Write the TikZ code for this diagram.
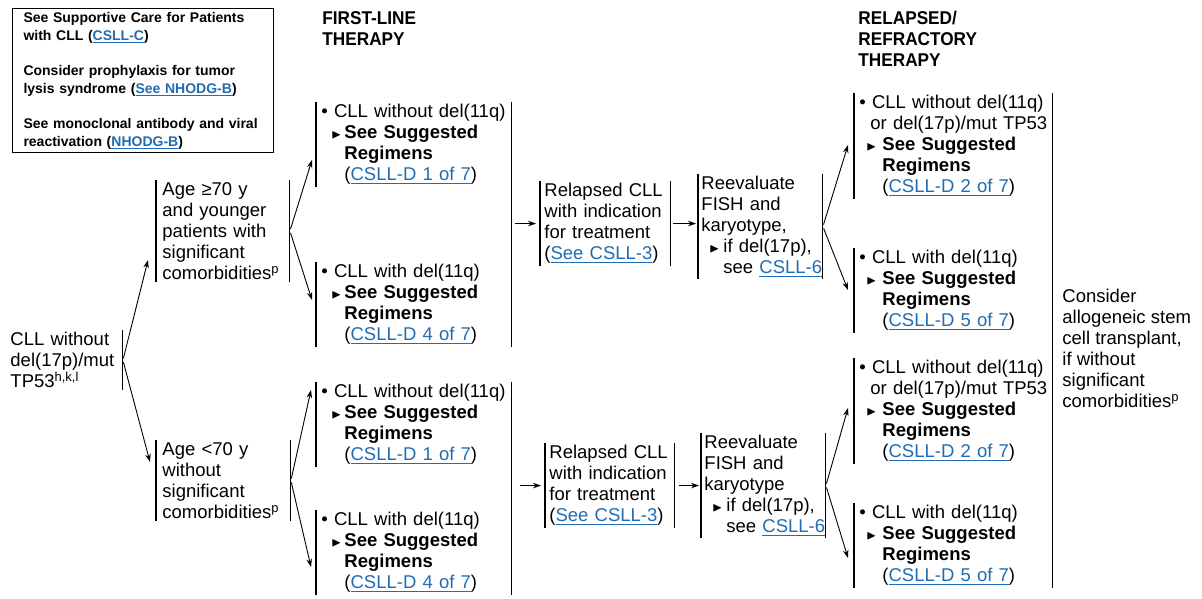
\documentclass[tikz,border=0pt]{standalone}
\usepackage{fontspec}
\setmainfont{Liberation Sans}
\newfontfamily\headfont[FakeStretch=0.93]{Liberation Sans}
\usepackage{amssymb}
\definecolor{colorLink}{RGB}{33,108,178}
\colorlet{colorBar}{black}
\usetikzlibrary{arrows.meta, calc}
\hyphenpenalty=10000
\exhyphenpenalty=10000
\newsavebox{\lnkbox}
\newcommand{\lnk}[1]{{\color{colorLink}\sbox{\lnkbox}{#1}\rlap{\rule[-2.8pt]{\wd\lnkbox}{1pt}}\usebox{\lnkbox}}}
\newcommand{\tri}{\makebox[10pt][l]{\hspace*{-3pt}\raisebox{0.5pt}{\scalebox{0.7}{$\blacktriangleright$}}}}

\begin{document}
\begin{tikzpicture}[x=1pt, y=-1pt, >={Stealth[length=8pt, width=5.5pt]}, line width=0.9pt,
  every node/.style={font=\fontsize{18.5}{21}\selectfont, align=left, anchor=north west, inner xsep=5pt, inner ysep=2pt},
  vbar/.style={draw=colorBar, line width=1.1pt},
  lbar/.style={append after command={(\tikzlastnode.north west) edge[vbar] (\tikzlastnode.south west)}},
  rbar/.style={append after command={(\tikzlastnode.north east) edge[vbar] (\tikzlastnode.south east)}}]
\useasboundingbox (0,0) rectangle (1202,599);

\node[draw, line width=1pt, font=\bfseries\fontsize{14}{18}\selectfont, text width=239pt, inner xsep=11pt, minimum height=144pt] (note) at (12,8) {See Supportive Care for Patients\\with CLL (\lnk{CSLL-C})\\[17pt]Consider prophylaxis for tumor\\lysis syndrome (\lnk{See NHODG-B})\\[17pt]See monoclonal antibody and viral\\reactivation (\lnk{NHODG-B})};
\node[font=\headfont\bfseries\fontsize{18.5}{21}\selectfont, inner sep=0pt] (fl) at (322,11) {FIRST-LINE\\THERAPY};
\node[font=\headfont\bfseries\fontsize{18.5}{21}\selectfont, inner sep=0pt] (rt) at (858,11) {RELAPSED/\\REFRACTORY\\THERAPY};

\node[rbar, text width=106pt, inner xsep=6pt] (root) at (4,330) {CLL without\\del(17p)/mut\\TP53\textsuperscript{h,k,l}};
\node[lbar, rbar, text width=121pt, inner xsep=6pt] (age1) at (156,180) {Age ≥70 y\\and younger\\patients with\\significant\\comorbidities\textsuperscript{p}};
\node[lbar, rbar, text width=122pt, inner xsep=6pt] (age2) at (156,440) {Age <70 y\\without\\significant\\comorbidities\textsuperscript{p}};

\node[lbar, text width=185pt] (ft1) at (316,102) {\textbullet~CLL~without~del(11q)\\\hspace*{13pt}\tri\textbf{See Suggested}\\\hspace*{23pt}\textbf{Regimens}\\\hspace*{23pt}(\lnk{CSLL-D 1 of 7})};
\node[lbar, text width=185pt] (ft2) at (316,262) {\textbullet~CLL~with~del(11q)\\\hspace*{13pt}\tri\textbf{See Suggested}\\\hspace*{23pt}\textbf{Regimens}\\\hspace*{23pt}(\lnk{CSLL-D 4 of 7})};
\node[lbar, text width=185pt] (fb1) at (316,382) {\textbullet~CLL~without~del(11q)\\\hspace*{13pt}\tri\textbf{See Suggested}\\\hspace*{23pt}\textbf{Regimens}\\\hspace*{23pt}(\lnk{CSLL-D 1 of 7})};
\node[lbar, text width=185pt] (fb2) at (316,510) {\textbullet~CLL~with~del(11q)\\\hspace*{13pt}\tri\textbf{See Suggested}\\\hspace*{23pt}\textbf{Regimens}\\\hspace*{23pt}(\lnk{CSLL-D 4 of 7})};

\node[lbar, rbar, text width=122pt, inner xsep=4pt] (rl1) at (540,181) {Relapsed CLL\\with indication\\for treatment\\(\lnk{See CSLL-3})};
\node[lbar, rbar, text width=121pt, inner xsep=4pt] (rl2) at (545,443) {Relapsed CLL\\with indication\\for treatment\\(\lnk{See CSLL-3})};
\node[lbar, rbar, text width=118pt, inner xsep=3pt] (re1) at (698,174) {Reevaluate\\FISH and\\karyotype,\\\hspace*{11pt}\tri\hspace*{1pt}if del(17p),\\\hspace*{22pt}see~\lnk{CSLL-6}};
\node[lbar, rbar, text width=118pt, inner xsep=3pt] (re2) at (701,433) {Reevaluate\\FISH and\\karyotype\\\hspace*{11pt}\tri\hspace*{1pt}if del(17p),\\\hspace*{22pt}see~\lnk{CSLL-6}};

\node[lbar, text width=188pt] (rr1) at (854,93) {\textbullet~CLL~without~del(11q)\\\hspace*{11pt}or~del(17p)/mut~TP53\\\hspace*{10pt}\tri\hspace*{3pt}\textbf{See Suggested}\\\hspace*{23pt}\textbf{Regimens}\\\hspace*{23pt}(\lnk{CSLL-D 2 of 7})};
\node[lbar, text width=188pt] (rr2) at (854,248) {\textbullet~CLL~with~del(11q)\\\hspace*{10pt}\tri\hspace*{3pt}\textbf{See Suggested}\\\hspace*{23pt}\textbf{Regimens}\\\hspace*{23pt}(\lnk{CSLL-D 5 of 7})};
\node[lbar, text width=188pt] (rs1) at (854,358) {\textbullet~CLL~without~del(11q)\\\hspace*{11pt}or~del(17p)/mut~TP53\\\hspace*{10pt}\tri\hspace*{3pt}\textbf{See Suggested}\\\hspace*{23pt}\textbf{Regimens}\\\hspace*{23pt}(\lnk{CSLL-D 2 of 7})};
\node[lbar, text width=188pt] (rs2) at (854,503) {\textbullet~CLL~with~del(11q)\\\hspace*{10pt}\tri\hspace*{3pt}\textbf{See Suggested}\\\hspace*{23pt}\textbf{Regimens}\\\hspace*{23pt}(\lnk{CSLL-D 5 of 7})};

\node[inner xsep=0pt] (allo) at (1062,287) {Consider\\allogeneic stem\\cell transplant,\\if without\\significant\\comorbidities\textsuperscript{p}};

\draw[vbar] (ft1.north east) -- (ft2.south east);
\draw[vbar] (fb1.north east) -- (fb2.south east);
\draw[vbar] (rr1.north east) -- (rs2.south east);

\draw[->, shorten <=2pt] (root.east) -- ($(age1.north west)+(-8,80)$);
\draw[->, shorten <=2pt] (root.east) -- ($(age2.north west)+(-6,22)$);
\draw[->, shorten <=2pt] (age1.east) -- ($(ft1.north west)+(-4,58)$);
\draw[->, shorten <=2pt] (age1.east) -- ($(ft2.north west)+(-4,38)$);
\draw[->, shorten <=2pt] (age2.east) -- ($(fb1.north west)+(-5,8)$);
\draw[->, shorten <=2pt] (age2.east) -- ($(fb2.north west)+(-5,57)$);
\draw[->, shorten <=3pt, shorten >=4pt] (rl1.west -| ft1.east) -- (rl1.west);
\draw[->, shorten <=2pt, shorten >=2pt] (rl1.east) -- (rl1.east -| re1.west);
\draw[->, shorten <=8pt, shorten >=4pt] (rl2.west -| fb1.east) -- (rl2.west);
\draw[->, shorten <=4pt, shorten >=2pt] (rl2.east) -- (rl2.east -| re2.west);
\draw[->, shorten <=2pt] (re1.east) -- ($(rr1.north west)+(-6,52)$);
\draw[->, shorten <=2pt] (re1.east) -- ($(rr2.north west)+(-6,42)$);
\draw[->, shorten <=2pt] (re2.east) -- ($(rs1.north west)+(-6,50)$);
\draw[->, shorten <=2pt] (re2.east) -- ($(rs2.north west)+(-6,55)$);
\end{tikzpicture}
\end{document}
